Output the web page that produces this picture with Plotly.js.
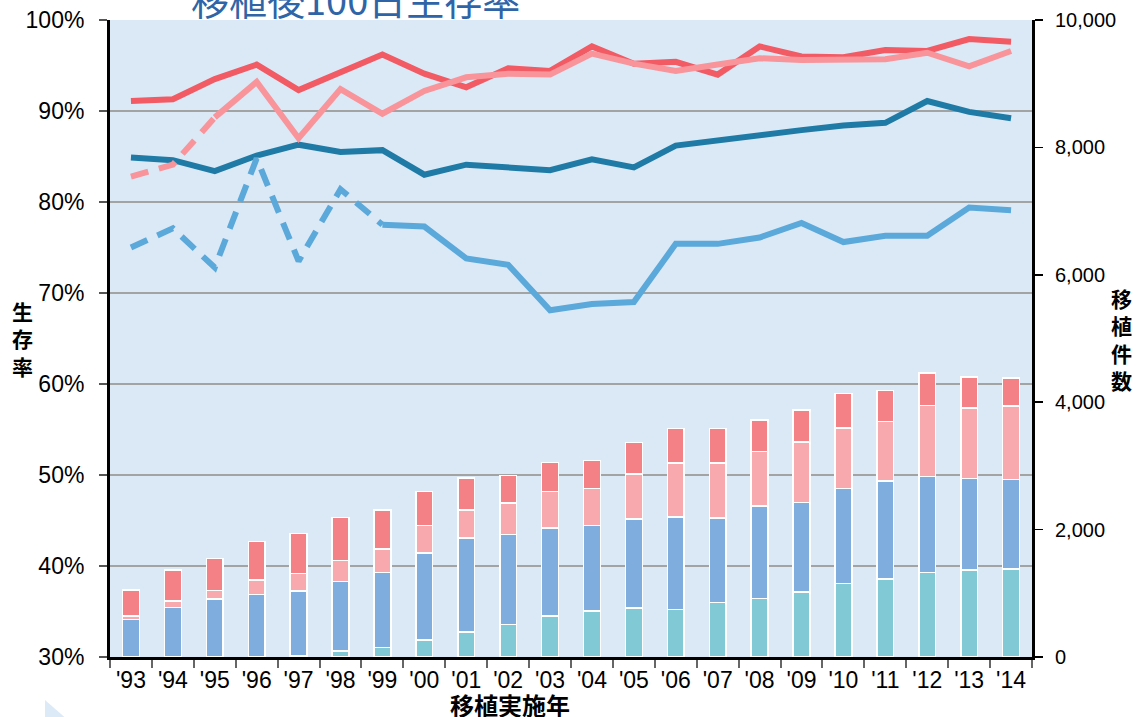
<!DOCTYPE html>
<html>
<head>
<meta charset="utf-8">
<script src="https://cdn.plot.ly/plotly-3.0.1.min.js"></script>
<style>
  html, body { margin: 0; padding: 0; background: #fff; }
  #myDiv { width: 1138px; height: 717px; }
</style>
</head>
<body>
<div id="myDiv"></div>
<script>
var years = ["'93", "'94", "'95", "'96", "'97", "'98", "'99", "'00", "'01", "'02", "'03",
	"'04", "'05", "'06", "'07", "'08", "'09", "'10", "'11", "'12", "'13", "'14"];

// survival rate (%) lines, left axis
var survRed = [91.1, 91.3, 93.5, 95.1, 92.3, 94.2, 96.2, 94.1, 92.6, 94.7, 94.4,
	97.1, 95.2, 95.4, 94.0, 97.1, 96.0, 95.9, 96.7, 96.6, 97.9, 97.6];
var survPink = [82.8, 84.1, 89.3, 93.2, 87.0, 92.4, 89.7, 92.2, 93.7, 94.1, 94.0,
	96.3, 95.2, 94.4, 95.1, 95.8, 95.6, 95.6, 95.7, 96.4, 94.9, 96.6];
var survNavy = [84.9, 84.6, 83.4, 85.1, 86.3, 85.5, 85.7, 83.0, 84.1, 83.8, 83.5,
	84.7, 83.8, 86.2, 86.8, 87.3, 87.9, 88.4, 88.7, 91.1, 89.9, 89.2];
var survBlue = [75.0, 77.1, 72.8, 84.8, 73.5, 81.4, 77.5, 77.3, 73.8, 73.1, 68.1,
	68.8, 69.0, 75.4, 75.4, 76.1, 77.7, 75.6, 76.3, 76.3, 79.4, 79.1];
var pinkDashEnd = 2;   // dashed up to '95
var blueDashEnd = 6;   // dashed up to '99

// transplant counts, right axis (stacked, bottom to top)
var cntTeal = [0, 0, 0, 10, 25, 94, 147, 267, 392, 513, 644,
	722, 769, 743, 853, 916, 1020, 1151, 1224, 1324, 1366, 1381];
var cntBlue = [590, 780, 911, 974, 1011, 1089, 1182, 1366, 1476, 1413, 1381,
	1345, 1397, 1455, 1329, 1454, 1408, 1497, 1539, 1513, 1439, 1409];
var cntPink = [52, 99, 130, 225, 278, 335, 366, 429, 440, 492, 576,
	576, 707, 848, 864, 854, 947, 947, 931, 1108, 1104, 1150];
var cntRed = [408, 487, 508, 601, 628, 669, 613, 539, 502, 428, 455,
	445, 497, 539, 539, 497, 503, 545, 487, 513, 487, 440];

function part(arr, from, to) {
	return arr.map(function (v, i) { return (i >= from && i <= to) ? v : null; });
}

function bar(vals, color) {
	return {
		x: years, y: vals, type: 'bar', yaxis: 'y2',
		marker: { color: color, line: { color: '#ffffff', width: 1.5 } },
		hoverinfo: 'skip'
	};
}

function line(vals, color, dash) {
	return {
		x: years, y: vals, type: 'scatter', mode: 'lines',
		line: { color: color, width: 6, dash: dash || 'solid' },
		connectgaps: false, hoverinfo: 'skip'
	};
}

var last = years.length - 1;
var data = [
	bar(cntTeal, '#82c9d6'),
	bar(cntBlue, '#7fadde'),
	bar(cntPink, '#f8a9ae'),
	bar(cntRed, '#f38186'),
	line(survNavy, '#1f7ba6'),
	line(part(survBlue, 0, blueDashEnd), '#5ba8da', '18px,11px'),
	line(part(survBlue, blueDashEnd, last), '#5ba8da'),
	line(survRed, '#f25a64'),
	line(part(survPink, 0, pinkDashEnd), '#f8949a', '18px,11px'),
	line(part(survPink, pinkDashEnd, last), '#f8949a')
];

var tickFont = { family: 'Liberation Sans, Arial, sans-serif', size: 23, color: '#000' };
var cjkBold = { family: 'Noto Sans CJK JP, sans-serif', size: 21, color: '#000', weight: 'bold' };

var layout = {
	width: 1138,
	height: 717,
	margin: { l: 110, r: 106, t: 20, b: 60 },
	paper_bgcolor: '#ffffff',
	plot_bgcolor: '#dbe9f6',
	showlegend: false,
	barmode: 'stack',
	bargap: 0.6,
	xaxis: {
		type: 'category',
		tickson: 'boundaries',
		ticks: 'outside',
		ticklen: 8,
		tickwidth: 2,
		tickcolor: '#666',
		showgrid: false,
		showline: true,
		linecolor: '#000',
		linewidth: 3,
		tickfont: { family: 'Liberation Sans, Arial, sans-serif', size: 23, color: '#000' }
	},
	yaxis: {
		range: [30, 100],
		tickvals: [30, 40, 50, 60, 70, 80, 90, 100],
		ticktext: ['30%', '40%', '50%', '60%', '70%', '80%', '90%', '100%'],
		ticks: 'outside',
		ticklen: 8,
		tickwidth: 1.5,
		tickcolor: '#555',
		ticklabelstandoff: 10,
		showgrid: true,
		gridcolor: '#a3a3a3',
		gridwidth: 1.5,
		zeroline: false,
		showline: true,
		linecolor: '#000',
		linewidth: 3,
		tickfont: tickFont
	},
	yaxis2: {
		overlaying: 'y',
		side: 'right',
		range: [0, 10000],
		tickvals: [0, 2000, 4000, 6000, 8000, 10000],
		ticktext: ['0', '2,000', '4,000', '6,000', '8,000', '10,000'],
		ticks: 'outside',
		ticklen: 8,
		tickwidth: 1.5,
		tickcolor: '#000',
		ticklabelstandoff: 8,
		showgrid: false,
		zeroline: false,
		showline: true,
		linecolor: '#000',
		linewidth: 3,
		tickfont: { family: 'Liberation Sans, Arial, sans-serif', size: 20, color: '#000' }
	},
	annotations: [
		{
			text: '移植後100日生存率', xref: 'paper', yref: 'paper',
			x: 0.266, y: 1, xanchor: 'center', yanchor: 'bottom', yshift: -8,
			showarrow: false,
			font: { family: 'Noto Sans CJK JP, sans-serif', size: 38, color: '#2f65a7' }
		},
		{
			text: '生<br>存<br>率', xref: 'paper', yref: 'paper',
			x: -0.095, y: 0.5, xanchor: 'center', yanchor: 'middle', yshift: 0,
			showarrow: false, font: cjkBold
		},
		{
			text: '移<br>植<br>件<br>数', xref: 'paper', yref: 'paper',
			x: 1.097, y: 0.5, xanchor: 'center', yanchor: 'middle',
			showarrow: false, font: cjkBold
		},
		{
			text: '移植実施年', xref: 'paper', yref: 'paper',
			x: 0.434, y: 0, xanchor: 'center', yanchor: 'middle', yshift: -47,
			showarrow: false,
			font: { family: 'Noto Sans CJK JP, sans-serif', size: 24, color: '#000', weight: 'bold' }
		}
	],
	shapes: [
		{
			type: 'path', xref: 'paper', yref: 'paper', layer: 'above',
			path: 'M -0.0705 -0.0675 L -0.0705 -0.095 L -0.0488 -0.095 Z',
			fillcolor: '#dceaf7', line: { width: 0 }
		}
	]
};

Plotly.newPlot('myDiv', data, layout, { displayModeBar: false, staticPlot: true });
</script>
</body>
</html>
